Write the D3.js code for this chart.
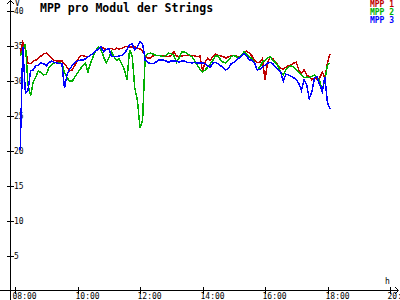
<!DOCTYPE html>
<meta charset="utf-8">
<style>
  body { margin: 0; background: #fff; }
  svg { display: block; font-family: "DejaVu Sans Mono", monospace; }
  .axis line, .axis path { stroke: #000; fill: none; }
  .series { fill: none; stroke-width: 1.5; shape-rendering: crispEdges; }
</style>
<svg width="400" height="300"></svg>
<script src="https://cdn.jsdelivr.net/npm/d3@7"></script>
<script>

// first sample at 08:10, one sample every 5 minutes
var startTime = "08:10";
var stepMinutes = 5;

var mpp1 = [33.9,35.5,34.4,32.5,32.4,32.8,32.9,33.2,33.5,33.8,33.9,33.6,33.2,32.9,32.8,32.8,32.8,32.4,31.9,31.4,
  31.5,32.2,32.9,33.5,33.6,33.4,33.4,33.6,33.9,34.2,34.6,34.8,34.6,34.4,34.5,34.6,34.4,34.6,34.5,34.6,
  34.8,34.9,34.8,34.8,34.8,34.6,34.5,34.2,33.5,33.2,33.2,33.5,33.6,33.6,33.5,33.5,33.4,33.4,33.6,34.1,
  33.5,33.4,33.5,33.6,33.6,33.6,33.6,33.5,33.4,33.5,31.4,32.6,33.2,32.9,33.4,33.8,33.6,33.5,33.4,33.2,
  33.4,33.5,33.6,33.5,33.4,33.5,34.1,34.2,33.9,33.5,32.9,32.6,32.6,33.1,30.1,32.6,33.4,33.1,32.6,32.2,
  31.8,31.6,31.9,32.1,32.2,32.5,32.6,31.5,31.1,31.5,30.8,30.5,30.1,30.4,30.1,30.4,31.2,30.4,32.6,33.8];

var mpp2 = [33.5,34.4,35.2,29.4,27.8,29.8,30.5,31.4,31.1,30.8,30.9,31.8,32.2,32.5,32.6,32.6,32.4,31.2,30.4,29.9,
  29.9,30.5,31.1,31.6,32.1,32.5,31.2,32.5,33.4,34.2,34.8,34.4,33.4,32.5,33.2,34.1,33.4,32.9,33.1,32.4,
  31.5,30.1,34.4,33.5,28.9,27.2,23.2,24.4,33.5,33.8,33.9,33.8,33.6,33.6,33.5,33.4,33.6,33.9,33.8,33.6,
  32.6,33.2,34.1,34.1,33.9,33.6,33.4,32.8,32.2,31.6,31.2,31.5,31.9,32.4,32.9,33.5,33.5,32.9,32.6,32.5,
  32.9,33.4,33.6,33.4,33.2,33.6,34.1,33.8,33.4,33.1,32.5,31.5,31.9,32.6,32.9,33.2,33.4,32.9,32.6,32.1,
  31.2,30.8,31.5,31.9,32.1,31.9,31.5,31.2,30.8,30.4,30.5,30.4,30.6,30.8,30.5,29.9,28.6,30.1,32.2,32.5];

var mpp3 = [20.1,34.8,28.2,28.6,31.4,31.5,32.1,32.2,32.5,32.4,32.1,32.5,32.8,32.6,32.5,32.4,32.4,28.9,30.9,31.6,
  32.2,32.6,32.8,32.9,32.9,33.1,33.4,33.6,33.9,34.2,34.5,34.8,34.1,34.4,34.6,33.5,33.4,33.4,33.5,33.6,
  33.9,34.4,35.1,35.2,34.4,34.8,35.5,35.2,32.9,32.6,32.4,32.4,32.6,32.9,32.9,32.9,32.8,32.6,32.8,32.8,
  32.8,32.6,32.8,32.8,32.6,32.6,32.5,32.6,32.5,32.5,32.5,32.4,32.1,31.9,32.5,32.6,32.4,32.1,31.8,31.5,
  31.8,32.4,32.6,32.9,33.2,33.5,33.8,33.5,32.9,32.9,32.5,31.5,31.6,31.9,32.2,32.5,32.6,32.4,31.9,31.6,
  31.2,29.9,30.9,30.8,30.6,30.4,30.1,29.6,28.6,30.1,29.4,27.4,28.4,30.4,30.5,29.4,28.4,30.5,26.8,25.9];

var seriesNames = ["MPP 1", "MPP 2", "MPP 3"];
var seriesColors = ["#c00000", "#00b000", "#0000ff"];
var yTicks = [5, 10, 15, 20, 25, 30, 35, 40];
var xTickLabels = ["08:00", "10:00", "12:00", "14:00", "16:00", "18:00", "20:00"];

var svg = d3.select("svg"),
    width = +svg.attr("width"),
    height = +svg.attr("height");

var parseTime = d3.timeParse("%H:%M");
var t0 = parseTime(startTime);

var x = d3.scaleTime()
    .domain([parseTime("08:00"), parseTime("20:00")])
    .range([15, 390]);

var y = d3.scaleLinear()
    .domain([0, 40])
    .range([290.5, 10.5]);

var line = d3.line()
    .x(function(d, i) { return x(d3.timeMinute.offset(t0, i * stepMinutes)); })
    .y(function(d) { return y(d); });

// axes
var ax = svg.append("g").attr("class", "axis");

ax.append("line")
    .attr("x1", 10.5).attr("x2", 10.5)
    .attr("y1", 0).attr("y2", height);
ax.append("path").attr("d", "M7,4L10.5,0.5L14,4");

ax.append("line")
    .attr("x1", 0).attr("x2", 398)
    .attr("y1", 290.5).attr("y2", 290.5);
ax.append("path").attr("d", "M395,287L398.5,290.5L395,294");

var yt = ax.selectAll(".ytick")
    .data(yTicks)
  .enter().append("g")
    .attr("transform", function(d) { return "translate(0," + (Math.round(y(d)) + 0.5) + ")"; });
yt.append("line").attr("x1", 7).attr("x2", 14);
yt.append("text")
    .attr("x", 14)
    .attr("dy", "0.35em")
    .attr("font-size", 8)
    .text(function(d) { return d; });

var xt = ax.selectAll(".xtick")
    .data(xTickLabels)
  .enter().append("g")
    .attr("transform", function(d) { return "translate(" + (Math.round(x(parseTime(d))) + 0.5) + ",0)"; });
xt.append("line").attr("y1", 287).attr("y2", 294);
xt.append("text")
    .attr("x", -3)
    .attr("y", 299)
    .attr("font-size", 8)
    .text(function(d) { return d; });

svg.append("text").attr("x", 15).attr("y", 5.5).attr("font-size", 8).text("V");
svg.append("text").attr("x", 385).attr("y", 284).attr("font-size", 8).text("h");

// series
[mpp1, mpp2, mpp3].forEach(function(s, i) {
  svg.append("path")
      .datum(s)
      .attr("class", "series")
      .attr("stroke", seriesColors[i])
      .attr("d", line);
});

// title + legend
svg.append("text")
    .attr("x", 40)
    .attr("y", 12)
    .attr("font-size", 11.5)
    .attr("font-weight", "bold")
    .text("MPP pro Modul der Strings");

svg.selectAll(".legend")
    .data(seriesNames)
  .enter().append("text")
    .attr("x", 394)
    .attr("y", function(d, i) { return 7 + i * 8; })
    .attr("text-anchor", "end")
    .attr("font-size", 8)
    .attr("font-weight", "bold")
    .attr("fill", function(d, i) { return seriesColors[i]; })
    .text(function(d) { return d; });

</script>
